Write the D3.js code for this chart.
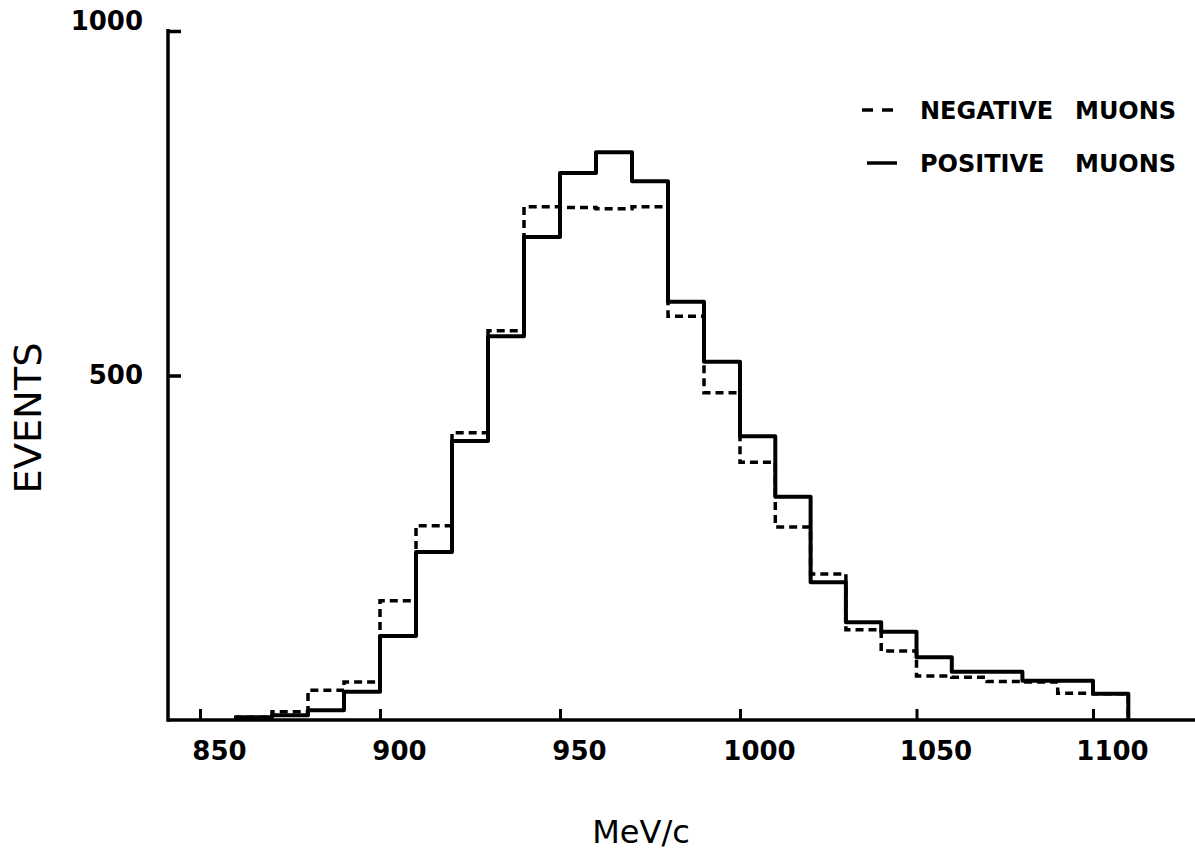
<!DOCTYPE html>
<html>
<head>
<meta charset="utf-8">
<script src="https://cdn.jsdelivr.net/npm/d3@7"></script>
<style>
  body { margin: 0; background: #fff; }
  text { font-family: "DejaVu Sans", sans-serif; fill: #000; }
</style>
</head>
<body>
<div id="chart"></div>
<script>
// left edges of the 10 MeV/c momentum bins
const binStarts = [860, 870, 880, 890, 900, 910, 920, 930, 940, 950, 960, 970, 980,
    990, 1000, 1010, 1020, 1030, 1040, 1050, 1060, 1070, 1080, 1090, 1100]
const binWidth = 10

const positiveMuons = [4, 7, 14, 41, 122, 244, 405, 557, 701, 794, 824, 782, 607,
    520, 412, 324, 200, 142, 128, 91, 70, 70, 57, 57, 38]
const negativeMuons = [4, 12, 43, 55, 173, 282, 417, 565, 745, 744, 742, 745, 586,
    475, 374, 280, 212, 131, 100, 64, 62, 56, 55, 39, 38]

const xTicks = [850, 900, 950, 1000, 1050, 1100]
const yTicks = [500, 1000]

const legendNames = [["NEGATIVE", "MUONS"], ["POSITIVE", "MUONS"]]

const display = () => {
    const width = 1195
    const height = 854
    const axisX = 168   // where the vertical axis sits

    // hand drawn original is slightly uneven, so pin a few points
    const x = d3.scaleLinear()
        .domain([850, 900, 1000, 1100])
        .range([200, 380, 740, 1093])

    const y = d3.scaleLinear()
        .domain([0, 1000])
        .range([720, 31])

    const svg = d3.select("#chart")
        .append("svg")
        .attr("width", width)
        .attr("height", height)

    // x axis: inward ticks, labels sit a little to the right of the ticks
    svg.append("g")
        .attr("transform", `translate(0,${y(0)})`)
        .call(d3.axisBottom(x)
            .tickValues(xTicks)
            .tickSizeInner(-11)
            .tickSizeOuter(0)
            .tickPadding(22)
            .tickFormat(d3.format("d")))
        .call(g => g.select(".domain").remove())
        .call(g => g.selectAll(".tick line").attr("stroke-width", 3))
        .call(g => g.selectAll(".tick text")
            .attr("dx", 19)
            .style("font-size", "26px")
            .style("font-weight", "bold"))

    svg.append("line")
        .attr("x1", axisX)
        .attr("x2", width)
        .attr("y1", y(0))
        .attr("y2", y(0))
        .attr("stroke", "#000")
        .attr("stroke-width", 3.5)

    // y axis
    svg.append("g")
        .attr("transform", `translate(${axisX},0)`)
        .call(d3.axisLeft(y)
            .tickValues(yTicks)
            .tickSizeInner(-13)
            .tickSizeOuter(0)
            .tickPadding(25)
            .tickFormat(d3.format("d")))
        .call(g => g.select(".domain").remove())
        .call(g => g.selectAll(".tick line").attr("stroke-width", 3.5))
        .call(g => g.selectAll(".tick text")
            .attr("dy", d => d === 1000 ? "-0.07em" : "0.32em")
            .style("font-size", "26px")
            .style("font-weight", "bold"))

    svg.append("line")
        .attr("x1", axisX)
        .attr("x2", axisX)
        .attr("y1", y(0) + 1.75)
        .attr("y2", y(1000) - 2)
        .attr("stroke", "#000")
        .attr("stroke-width", 3.5)

    // histogram outlines drawn as step lines
    const stepPoints = counts => [
        [binStarts[0], 0],
        ...binStarts.map((b, i) => [b, counts[i]]),
        [binStarts[binStarts.length - 1] + binWidth, 0]
    ]

    const line = d3.line()
        .x(d => x(d[0]))
        .y(d => y(d[1]))
        .curve(d3.curveStepAfter)

    svg.append("path")
        .datum(stepPoints(negativeMuons))
        .attr("d", line)
        .attr("fill", "none")
        .attr("stroke", "#000")
        .attr("stroke-width", 3.5)
        .attr("stroke-dasharray", "8,5")

    svg.append("path")
        .datum(stepPoints(positiveMuons))
        .attr("d", line)
        .attr("fill", "none")
        .attr("stroke", "#000")
        .attr("stroke-width", 4)
        .attr("stroke-linejoin", "round")

    // legend
    const legend = svg.selectAll("g.legend")
        .data(legendNames)
        .enter()
        .append("g")
        .attr("class", "legend")
        .attr("transform", (d, i) => `translate(0,${110 + i * 53})`)

    legend.append("line")
        .attr("x1", (d, i) => i === 0 ? 862 : 867)
        .attr("x2", (d, i) => i === 0 ? 893 : 897)
        .attr("stroke", "#000")
        .attr("stroke-width", 3.5)
        .attr("stroke-dasharray", (d, i) => i === 0 ? "11,9" : null)

    legend.append("text")
        .attr("x", 920)
        .attr("y", 9)
        .style("font-size", "24px")
        .style("font-weight", "bold")
        .text(d => d[0])

    legend.append("text")
        .attr("x", 1075)
        .attr("y", 9)
        .style("font-size", "24px")
        .style("font-weight", "bold")
        .text(d => d[1])

    // axis titles
    svg.append("text")
        .attr("x", 641)
        .attr("y", 843)
        .attr("text-anchor", "middle")
        .style("font-size", "32px")
        .text("MeV/c")

    svg.append("text")
        .attr("transform", "translate(27,418) rotate(-90)")
        .attr("text-anchor", "middle")
        .attr("dy", "0.365em")
        .attr("textLength", 151)
        .attr("lengthAdjust", "spacingAndGlyphs")
        .style("font-size", "38px")
        .text("EVENTS")
}

display()
</script>
</body>
</html>
